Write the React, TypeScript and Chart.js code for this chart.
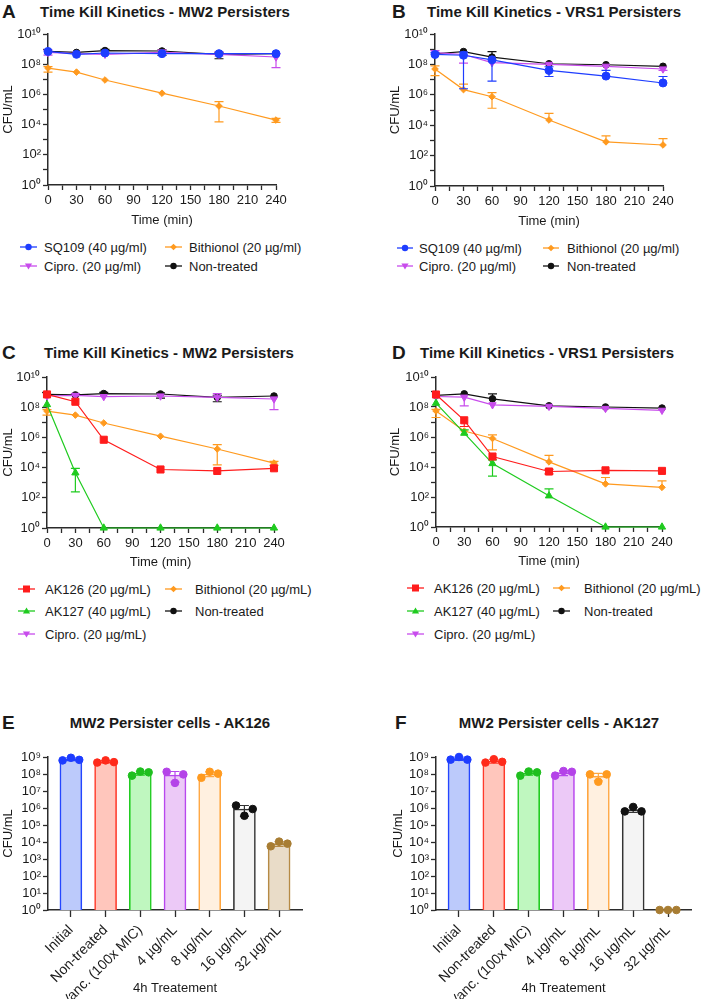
import React, { useEffect, useRef } from "react";
import { Chart, registerables } from "chart.js";

Chart.register(...registerables);

const FONT = 'Arial, "Liberation Sans", Helvetica, sans-serif';
const TEXT = "#1a1a1a";
const AXIS = "#2b2b2b";
Chart.defaults.font.family = FONT;

const N = null;

// ---------------- time-kill data ----------------
const TIMES = [0, 30, 60, 120, 180, 240];
const TIME_TICKS_ALL = [0, 15, 30, 45, 60, 75, 90, 105, 120, 135, 150, 165, 180, 195, 210, 225, 240];
const TIME_LABELS = [0, 30, 60, 90, 120, 150, 180, 210, 240];
const LINE_Y_EXP = [0, 1, 2, 3, 4, 5, 6, 7, 8, 9, 10];
const BAR_Y_EXP = [0, 1, 2, 3, 4, 5, 6, 7, 8, 9];

// Panel A - MW2 persisters (SQ109)
const A_SQ109 = [7e8, 4.5e8, 5.5e8, 5e8, 5e8, 5e8];
const A_SQ109_LO = [N, N, N, N, N, N];
const A_SQ109_HI = [N, N, N, N, N, N];
const A_CIPRO = [6e8, 5e8, 4.5e8, 6e8, 4.5e8, 3e8];
const A_CIPRO_LO = [4e8, N, N, N, 3.5e8, 6e7];
const A_CIPRO_HI = [9e8, N, N, 8.5e8, 6.5e8, 5e8];
const A_NT = [7e8, 6e8, 8e8, 7.5e8, 4.5e8, 5e8];
const A_NT_LO = [N, N, N, 3.8e8, 2.3e8, N];
const A_NT_HI = [N, N, 9.5e8, 9e8, 6e8, N];
const A_BITH = [5.5e7, 3e7, 9e6, 1.2e6, 1.7e5, 2e4];
const A_BITH_LO = [3e7, N, N, N, 1.5e4, 1.4e4];
const A_BITH_HI = [7e7, N, N, N, 3.3e5, 2.6e4];

// Panel B - VRS1 persisters (SQ109)
const B_SQ109 = [4.5e8, 4e8, 2e8, 4e7, 1.7e7, 6e6];
const B_SQ109_LO = [N, 2.5e6, 8e6, 1.6e7, N, N];
const B_SQ109_HI = [6e8, 6.5e8, N, 7e7, 4e7, 1.6e7];
const B_CIPRO = [6e8, 4.5e8, 1.3e8, 1e8, 7.5e7, 5e7];
const B_CIPRO_LO = [N, 1.2e8, N, N, N, 4e7];
const B_CIPRO_HI = [8e8, N, N, N, N, N];
const B_NT = [5e8, 7e8, 3e8, 1.1e8, 9.5e7, 7.5e7];
const B_NT_LO = [N, N, N, N, N, N];
const B_NT_HI = [N, N, 7e8, N, N, N];
const B_BITH = [5e7, 2.2e6, 7.5e5, 2.2e4, 8e2, 5e2];
const B_BITH_LO = [1.8e7, N, 1.3e5, N, N, N];
const B_BITH_HI = [8e7, 5e6, 1.4e6, 6e4, 2e3, 1.3e3];

// Panel C - MW2 persisters (AK126 / AK127)
const C_AK126 = [7e8, 2.3e8, 7e5, 7.5e3, 6e3, 9e3];
const C_AK126_LO = [N, N, N, N, N, N];
const C_AK126_HI = [N, N, N, N, N, N];
const C_AK127 = [1.5e8, 4.5e3, 1, 1, 1, 1];
const C_AK127_LO = [N, 2.5e2, N, N, N, N];
const C_AK127_HI = [N, 9e3, N, N, N, N];
const C_CIPRO = [5.5e8, 6e8, 5e8, 5.5e8, 4.5e8, 3.5e8];
const C_CIPRO_LO = [N, N, N, N, N, 7e7];
const C_CIPRO_HI = [N, 8e8, N, N, 8e8, N];
const C_NT = [7e8, 6.5e8, 8e8, 7.5e8, 4.5e8, 5.5e8];
const C_NT_LO = [N, N, N, 4e8, 2.3e8, N];
const C_NT_HI = [N, N, 9.5e8, 9e8, 6e8, N];
const C_BITH = [5.5e7, 3e7, 9e6, 1.2e6, 1.7e5, 2e4];
const C_BITH_LO = [3e7, N, N, N, 1.5e4, 1.4e4];
const C_BITH_HI = [7e7, N, N, N, 3.3e5, 2.6e4];

// Panel D - VRS1 persisters (AK126 / AK127)
const D_AK126 = [6.8e8, 1.3e7, 5e4, 5e3, 6e3, 5.5e3];
const D_AK126_LO = [N, 5e6, N, 3.5e3, N, N];
const D_AK126_HI = [N, N, N, 7e3, N, N];
const D_AK127 = [1.8e8, 1.8e6, 1.7e4, 1.2e2, 1, 1];
const D_AK127_LO = [N, N, 2.5e3, N, N, N];
const D_AK127_HI = [N, 3e6, 3e4, 3.5e2, N, N];
const D_CIPRO = [5e8, 4.5e8, 1.4e8, 1.1e8, 8e7, 6e7];
const D_CIPRO_LO = [N, 1.2e8, N, N, N, N];
const D_CIPRO_HI = [N, N, N, N, N, N];
const D_NT = [6e8, 7.5e8, 3.5e8, 1.2e8, 1e8, 8.5e7];
const D_NT_LO = [N, N, N, N, N, N];
const D_NT_HI = [N, N, 7.5e8, N, N, N];
const D_BITH = [5.5e7, 2.5e6, 8e5, 2.2e4, 7.5e2, 4.4e2];
const D_BITH_LO = [2e7, N, 1.4e5, N, N, N];
const D_BITH_HI = [7e7, N, 1.4e6, 6e4, 2e3, 1.2e3];

// ---------------- bar panels E / F ----------------
const CATS = ["Initial", "Non-treated", "Vanc. (100x MIC)", "4 µg/mL", "8 µg/mL", "16 µg/mL", "32 µg/mL"];

const E_MEAN = [7.4e8, 5.3e8, 1.15e8, 8.7e7, 1e8, 8.7e5, 8e3];
const E_LO = [6.2e8, 4.5e8, 8.5e7, 3.3e7, 7e7, 3.2e5, 5.6e3];
const E_HI = [9e8, 6.2e8, 1.45e8, 1.4e8, 1.35e8, 1.4e6, 1.05e4];
const E_REP1 = [6.3e8, 4.7e8, 8e7, 1.35e8, 6e7, 1.4e6, 5.6e3];
const E_REP2 = [9e8, 6.3e8, 1.4e8, 3e7, 1.35e8, 3.5e5, 1.05e4];
const E_REP3 = [6.8e8, 5e8, 1.25e8, 9.5e7, 1.05e8, 8.7e5, 8e3];

const F_MEAN = [8e8, 5.8e8, 1.15e8, 1.2e8, 7.5e7, 8e5, 1];
const F_LO = [6.3e8, 4.3e8, 8.5e7, 8e7, 4e7, 5.5e5, N];
const F_HI = [9.8e8, 7.3e8, 1.45e8, 1.6e8, 1.1e8, 1.1e6, N];
const F_REP1 = [7e8, 4.7e8, 8e7, 8e7, 9.5e7, 6.3e5, 1];
const F_REP2 = [1e9, 7.4e8, 1.4e8, 1.5e8, 3.5e7, 1.15e6, 1];
const F_REP3 = [7e8, 5.2e8, 1.25e8, 1.35e8, 9.5e7, 6.3e5, 1];

const REP_OFFSETS = [-0.24, 0, 0.24];

// ---------------- colours ----------------
const COL_SQ109 = "#1e3dff";
const COL_BITH = "#ff9a1f";
const COL_CIPRO = "#c84cec";
const COL_NT = "#111111";
const COL_AK126 = "#ff1c1c";
const COL_AK127 = "#1fcb1f";

const BAR_BORDER = ["#2446ff", "#ff3a2a", "#22cc22", "#b847ee", "#ffa640", "#333333", "#b68a45"];
const BAR_FILL = ["#bccafb", "#ffc6bc", "#bff7bf", "#ecc9f7", "#fff0e0", "#f4f4f4", "#e9dcc8"];
const DOT_COL = ["#1d3cff", "#ff2a1a", "#1fbf1f", "#b443e8", "#ff9a1f", "#111111", "#a87d33"];

// ---------------- helpers ----------------
const SUP: Record<string, string> = {
  "0": "⁰", "1": "¹", "2": "²", "3": "³", "4": "⁴", "5": "⁵", "6": "⁶", "7": "⁷", "8": "⁸", "9": "⁹",
};
const pow10 = (e: number) => "10" + String(e).split("").map((c) => SUP[c]).join("");

type Series = {
  label: string;
  values: number[];
  lo: (number | null)[];
  hi: (number | null)[];
  color: string;
  style: string;
  radius: number;
  rotation?: number;
};

const errorBarPlugin = {
  id: "errbars",
  afterDatasetDraw(chart: any, args: any) {
    const ds: any = chart.data.datasets[args.index];
    if (!ds.errLo && !ds.errHi) return;
    const meta = args.meta;
    const yScale = chart.scales[meta.yAxisID];
    const ctx = chart.ctx;
    ctx.save();
    ctx.lineWidth = 1.2;
    meta.data.forEach((el: any, i: number) => {
      const col = ds.errColors ? ds.errColors[i] : ds.borderColor;
      ctx.strokeStyle = col;
      const cap = ds.errCap ?? 4.5;
      const seg = (v: number | null | undefined) => {
        if (v == null) return;
        const yy = yScale.getPixelForValue(v);
        ctx.beginPath();
        ctx.moveTo(el.x, el.y);
        ctx.lineTo(el.x, yy);
        ctx.moveTo(el.x - cap, yy);
        ctx.lineTo(el.x + cap, yy);
        ctx.stroke();
      };
      seg(ds.errHi ? ds.errHi[i] : null);
      seg(ds.errLo ? ds.errLo[i] : null);
    });
    ctx.restore();
  },
};

function logY(exps: number[], maxExp: number, labelEvery: number, yW: number, titlePad: number) {
  return {
    type: "logarithmic",
    min: 1,
    max: Math.pow(10, maxExp),
    afterBuildTicks: (s: any) => {
      s.ticks = exps.map((e) => ({ value: Math.pow(10, e) }));
    },
    afterFit: (s: any) => {
      s.width = yW;
    },
    ticks: {
      autoSkip: false,
      font: { family: FONT, size: 13 },
      color: TEXT,
      padding: 2,
      callback: (v: number) => {
        const e = Math.round(Math.log10(v));
        return e % labelEvery === 0 ? pow10(e) : "";
      },
    },
    grid: { display: true, drawOnChartArea: false, drawTicks: true, tickLength: 5, tickWidth: 1.3, tickColor: AXIS, offset: false },
    border: { display: true, color: AXIS, width: 1.5 },
    title: { display: true, text: "CFU/mL", font: { family: FONT, size: 13 }, color: TEXT, padding: { top: titlePad, bottom: 0 } },
  };
}

function lineConfig(series: Series[], yW: number, xH: number, padTop: number, padRight: number) {
  return {
    type: "line",
    data: {
      datasets: series.map((s) => ({
        label: s.label,
        data: TIMES.map((t, i) => ({ x: t, y: s.values[i] })),
        borderColor: s.color,
        backgroundColor: s.color,
        borderWidth: 1.2,
        pointStyle: s.style,
        pointRadius: s.radius,
        pointRotation: s.rotation ?? 0,
        pointBackgroundColor: s.color,
        pointBorderColor: s.color,
        pointBorderWidth: 1,
        tension: 0,
        clip: false,
        errLo: s.lo,
        errHi: s.hi,
      })),
    },
    options: {
      animation: false,
      responsive: false,
      devicePixelRatio: 1,
      layout: { padding: { top: padTop, right: padRight, left: 0, bottom: 0 } },
      plugins: { legend: { display: false }, tooltip: { enabled: false }, title: { display: false } },
      scales: {
        x: {
          type: "linear",
          min: 0,
          max: 240,
          offset: false,
          afterBuildTicks: (s: any) => {
            s.ticks = TIME_TICKS_ALL.map((v) => ({ value: v }));
          },
          afterFit: (s: any) => {
            s.height = xH;
          },
          ticks: {
            autoSkip: false,
            maxRotation: 0,
            font: { family: FONT, size: 13 },
            color: TEXT,
            padding: 3,
            callback: (v: number) => (TIME_LABELS.includes(v) ? String(v) : ""),
          },
          grid: { display: true, drawOnChartArea: false, drawTicks: true, tickLength: 5, tickWidth: 1.3, tickColor: AXIS, offset: false },
          border: { display: true, color: AXIS, width: 1.5 },
          title: { display: true, text: "Time (min)", font: { family: FONT, size: 13 }, color: TEXT, padding: { top: 0, bottom: 4 } },
        },
        y: logY(LINE_Y_EXP, 10, 2, yW, 1),
      },
    },
    plugins: [errorBarPlugin],
  };
}

function barConfig(mean: number[], lo: (number | null)[], hi: (number | null)[], reps: number[][], yW: number, xH: number, padRight: number) {
  const pts: { x: number; y: number }[] = [];
  const cols: string[] = [];
  CATS.forEach((_, i) => {
    reps.forEach((r, k) => {
      pts.push({ x: i + REP_OFFSETS[k], y: r[i] });
      cols.push(DOT_COL[i]);
    });
  });
  return {
    type: "bar",
    data: {
      datasets: [
        {
          type: "scatter",
          data: pts,
          pointRadius: 3.8,
          pointBackgroundColor: cols,
          pointBorderColor: cols,
          pointBorderWidth: 1,
          showLine: false,
          clip: false,
        },
        {
          type: "bar",
          data: mean.map((m, i) => ({ x: i, y: m })),
          backgroundColor: BAR_FILL,
          borderColor: BAR_BORDER,
          borderWidth: 1.6,
          barThickness: 22,
          borderSkipped: "start",
          errLo: lo,
          errHi: hi,
          errColors: BAR_BORDER,
          errCap: 4.5,
        },
      ],
    },
    options: {
      animation: false,
      responsive: false,
      devicePixelRatio: 1,
      layout: { padding: { top: 10, right: padRight, left: 0, bottom: 0 } },
      plugins: { legend: { display: false }, tooltip: { enabled: false } },
      scales: {
        x: {
          type: "linear",
          min: -0.66,
          max: 6.66,
          offset: false,
          afterBuildTicks: (s: any) => {
            s.ticks = CATS.map((_, i) => ({ value: i }));
          },
          afterFit: (s: any) => {
            s.height = xH;
          },
          ticks: {
            autoSkip: false,
            minRotation: 45,
            maxRotation: 45,
            font: { family: FONT, size: 14 },
            color: TEXT,
            padding: 5,
            callback: (v: number) => CATS[Math.round(v)] ?? "",
          },
          grid: { display: true, drawOnChartArea: false, drawTicks: true, tickLength: 7, tickWidth: 1.3, tickColor: AXIS, offset: false },
          border: { display: true, color: AXIS, width: 1.5 },
          title: { display: true, text: "4h Treatement", font: { family: FONT, size: 13 }, color: TEXT, padding: { top: 0, bottom: 3 } },
        },
        y: logY(BAR_Y_EXP, 9, 1, yW, 1),
      },
    },
    plugins: [errorBarPlugin],
  };
}

function ChartBox(props: { left: number; top: number; width: number; height: number; make: () => any }) {
  const ref = useRef<HTMLCanvasElement>(null);
  useEffect(() => {
    const chart = new Chart(ref.current as HTMLCanvasElement, props.make());
    return () => chart.destroy();
  }, []);
  return (
    <canvas
      ref={ref}
      width={props.width}
      height={props.height}
      style={{ position: "absolute", left: props.left, top: props.top, width: props.width, height: props.height }}
    />
  );
}

function Txt(props: { x: number; y: number; size?: number; bold?: boolean; center?: boolean; children: React.ReactNode }) {
  return (
    <div
      style={{
        position: "absolute",
        left: props.x,
        top: props.y,
        transform: `translate(${props.center ? "-50%" : "0"}, -50%)`,
        fontFamily: FONT,
        fontSize: props.size ?? 13,
        fontWeight: props.bold ? 700 : 400,
        lineHeight: 1,
        whiteSpace: "nowrap",
        color: TEXT,
      }}
    >
      {props.children}
    </div>
  );
}

function Marker(props: { x: number; y: number; w: number; s: Series }) {
  const { w, s } = props;
  const cx = w / 2;
  const cy = 6;
  const c = s.color;
  let shape: React.ReactNode = null;
  if (s.style === "circle") shape = <circle cx={cx} cy={cy} r={3.2} fill={c} />;
  else if (s.style === "rectRot")
    shape = <polygon points={`${cx},${cy - 3.3} ${cx + 3.3},${cy} ${cx},${cy + 3.3} ${cx - 3.3},${cy}`} fill={c} />;
  else if (s.style === "rect") shape = <rect x={cx - 3.5} y={cy - 3.5} width={7} height={7} fill={c} />;
  else if (s.style === "triangle" && s.rotation === 180)
    shape = <polygon points={`${cx - 3.6},${cy - 2.6} ${cx + 3.6},${cy - 2.6} ${cx},${cy + 3.6}`} fill={c} />;
  else shape = <polygon points={`${cx - 3.6},${cy + 2.6} ${cx + 3.6},${cy + 2.6} ${cx},${cy - 3.6}`} fill={c} />;
  return (
    <svg width={w} height={12} style={{ position: "absolute", left: props.x, top: props.y - 6 }}>
      <line x1={0} y1={cy} x2={w} y2={cy} stroke={c} strokeWidth={1.3} />
      {shape}
    </svg>
  );
}

type LegendItem = { s: Series; mx: number; mw: number; tx: number; y: number };

function Legend(props: { items: LegendItem[] }) {
  return (
    <>
      {props.items.map((it, i) => (
        <React.Fragment key={i}>
          <Marker x={it.mx} y={it.y} w={it.mw} s={it.s} />
          <Txt x={it.tx} y={it.y}>{it.s.label}</Txt>
        </React.Fragment>
      ))}
    </>
  );
}

// ---------------- series objects ----------------
const mk = (label: string, values: number[], lo: (number | null)[], hi: (number | null)[], color: string, style: string, radius: number, rotation?: number): Series => ({
  label, values, lo, hi, color, style, radius, rotation,
});

const A_S = {
  sq: mk("SQ109 (40 µg/ml)", A_SQ109, A_SQ109_LO, A_SQ109_HI, COL_SQ109, "circle", 4),
  ci: mk("Cipro. (20 µg/ml)", A_CIPRO, A_CIPRO_LO, A_CIPRO_HI, COL_CIPRO, "triangle", 4.2, 180),
  nt: mk("Non-treated", A_NT, A_NT_LO, A_NT_HI, COL_NT, "circle", 3.3),
  bi: mk("Bithionol (20 µg/ml)", A_BITH, A_BITH_LO, A_BITH_HI, COL_BITH, "rectRot", 3.3),
};
const B_S = {
  sq: mk("SQ109 (40 µg/ml)", B_SQ109, B_SQ109_LO, B_SQ109_HI, COL_SQ109, "circle", 4),
  ci: mk("Cipro. (20 µg/ml)", B_CIPRO, B_CIPRO_LO, B_CIPRO_HI, COL_CIPRO, "triangle", 4.2, 180),
  nt: mk("Non-treated", B_NT, B_NT_LO, B_NT_HI, COL_NT, "circle", 3.3),
  bi: mk("Bithionol (20 µg/ml)", B_BITH, B_BITH_LO, B_BITH_HI, COL_BITH, "rectRot", 3.3),
};
const C_S = {
  a6: mk("AK126 (20 µg/mL)", C_AK126, C_AK126_LO, C_AK126_HI, COL_AK126, "rect", 5),
  a7: mk("AK127 (40 µg/mL)", C_AK127, C_AK127_LO, C_AK127_HI, COL_AK127, "triangle", 4.2),
  ci: mk("Cipro. (20 µg/mL)", C_CIPRO, C_CIPRO_LO, C_CIPRO_HI, COL_CIPRO, "triangle", 4.2, 180),
  nt: mk("Non-treated", C_NT, C_NT_LO, C_NT_HI, COL_NT, "circle", 3.3),
  bi: mk("Bithionol (20 µg/mL)", C_BITH, C_BITH_LO, C_BITH_HI, COL_BITH, "rectRot", 3.3),
};
const D_S = {
  a6: mk("AK126 (20 µg/mL)", D_AK126, D_AK126_LO, D_AK126_HI, COL_AK126, "rect", 5),
  a7: mk("AK127 (40 µg/mL)", D_AK127, D_AK127_LO, D_AK127_HI, COL_AK127, "triangle", 4.2),
  ci: mk("Cipro. (20 µg/mL)", D_CIPRO, D_CIPRO_LO, D_CIPRO_HI, COL_CIPRO, "triangle", 4.2, 180),
  nt: mk("Non-treated", D_NT, D_NT_LO, D_NT_HI, COL_NT, "circle", 3.3),
  bi: mk("Bithionol (20 µg/mL)", D_BITH, D_BITH_LO, D_BITH_HI, COL_BITH, "rectRot", 3.3),
};

export default function App() {
  return (
    <div style={{ position: "absolute", left: 0, top: 0, width: 701, height: 999, overflow: "hidden", background: "#fff" }}>
      {/* Panel A */}
      <Txt x={2} y={11} size={19} bold>A</Txt>
      <Txt x={165} y={11} size={15} bold center>Time Kill Kinetics - MW2 Persisters</Txt>
      <ChartBox left={0} top={24} width={300} height={208} make={() => lineConfig([A_S.sq, A_S.ci, A_S.nt, A_S.bi], 48, 47, 10, 24)} />
      <Legend
        items={[
          { s: A_S.sq, mx: 20, mw: 17, tx: 44, y: 247 },
          { s: A_S.bi, mx: 165, mw: 17, tx: 189, y: 247 },
          { s: A_S.ci, mx: 20, mw: 17, tx: 44, y: 266 },
          { s: A_S.nt, mx: 165, mw: 17, tx: 189, y: 266 },
        ]}
      />

      {/* Panel B */}
      <Txt x={392} y={11} size={19} bold>B</Txt>
      <Txt x={554} y={11} size={15} bold center>Time Kill Kinetics - VRS1 Persisters</Txt>
      <ChartBox left={387} top={24} width={303} height={209} make={() => lineConfig([B_S.sq, B_S.ci, B_S.nt, B_S.bi], 48, 47, 10, 27)} />
      <Legend
        items={[
          { s: B_S.sq, mx: 397, mw: 16, tx: 419, y: 248 },
          { s: B_S.bi, mx: 543, mw: 16, tx: 567, y: 248 },
          { s: B_S.ci, mx: 397, mw: 16, tx: 419, y: 266 },
          { s: B_S.nt, mx: 543, mw: 16, tx: 567, y: 266 },
        ]}
      />

      {/* Panel C */}
      <Txt x={2} y={352} size={19} bold>C</Txt>
      <Txt x={169} y={352} size={15} bold center>Time Kill Kinetics - MW2 Persisters</Txt>
      <ChartBox left={0} top={367} width={300} height={207} make={() => lineConfig([C_S.a6, C_S.a7, C_S.ci, C_S.nt, C_S.bi], 47, 46, 10, 26)} />
      <Legend
        items={[
          { s: C_S.a6, mx: 18, mw: 17, tx: 45, y: 589 },
          { s: C_S.bi, mx: 165, mw: 17, tx: 195, y: 589 },
          { s: C_S.a7, mx: 18, mw: 17, tx: 45, y: 611 },
          { s: C_S.nt, mx: 165, mw: 17, tx: 195, y: 611 },
          { s: C_S.ci, mx: 18, mw: 17, tx: 45, y: 634 },
        ]}
      />

      {/* Panel D */}
      <Txt x={392} y={352} size={19} bold>D</Txt>
      <Txt x={547} y={352} size={15} bold center>Time Kill Kinetics - VRS1 Persisters</Txt>
      <ChartBox left={387} top={367} width={303} height={206} make={() => lineConfig([D_S.a6, D_S.a7, D_S.ci, D_S.nt, D_S.bi], 49, 46, 10, 28)} />
      <Legend
        items={[
          { s: D_S.a6, mx: 407, mw: 17, tx: 434, y: 588 },
          { s: D_S.bi, mx: 553, mw: 17, tx: 584, y: 588 },
          { s: D_S.a7, mx: 407, mw: 17, tx: 434, y: 611 },
          { s: D_S.nt, mx: 553, mw: 17, tx: 584, y: 611 },
          { s: D_S.ci, mx: 407, mw: 17, tx: 434, y: 634 },
        ]}
      />

      {/* Panel E */}
      <Txt x={2} y={722} size={19} bold>E</Txt>
      <Txt x={170} y={722} size={15} bold center>MW2 Persister cells - AK126</Txt>
      <ChartBox left={0} top={747} width={310} height={252} make={() => barConfig(E_MEAN, E_LO, E_HI, [E_REP1, E_REP2, E_REP3], 48, 89, 8)} />

      {/* Panel F */}
      <Txt x={395} y={722} size={19} bold>F</Txt>
      <Txt x={559} y={722} size={15} bold center>MW2 Persister cells - AK127</Txt>
      <ChartBox left={390} top={747} width={311} height={252} make={() => barConfig(F_MEAN, F_LO, F_HI, [F_REP1, F_REP2, F_REP3], 46, 89, 10)} />
    </div>
  );
}
